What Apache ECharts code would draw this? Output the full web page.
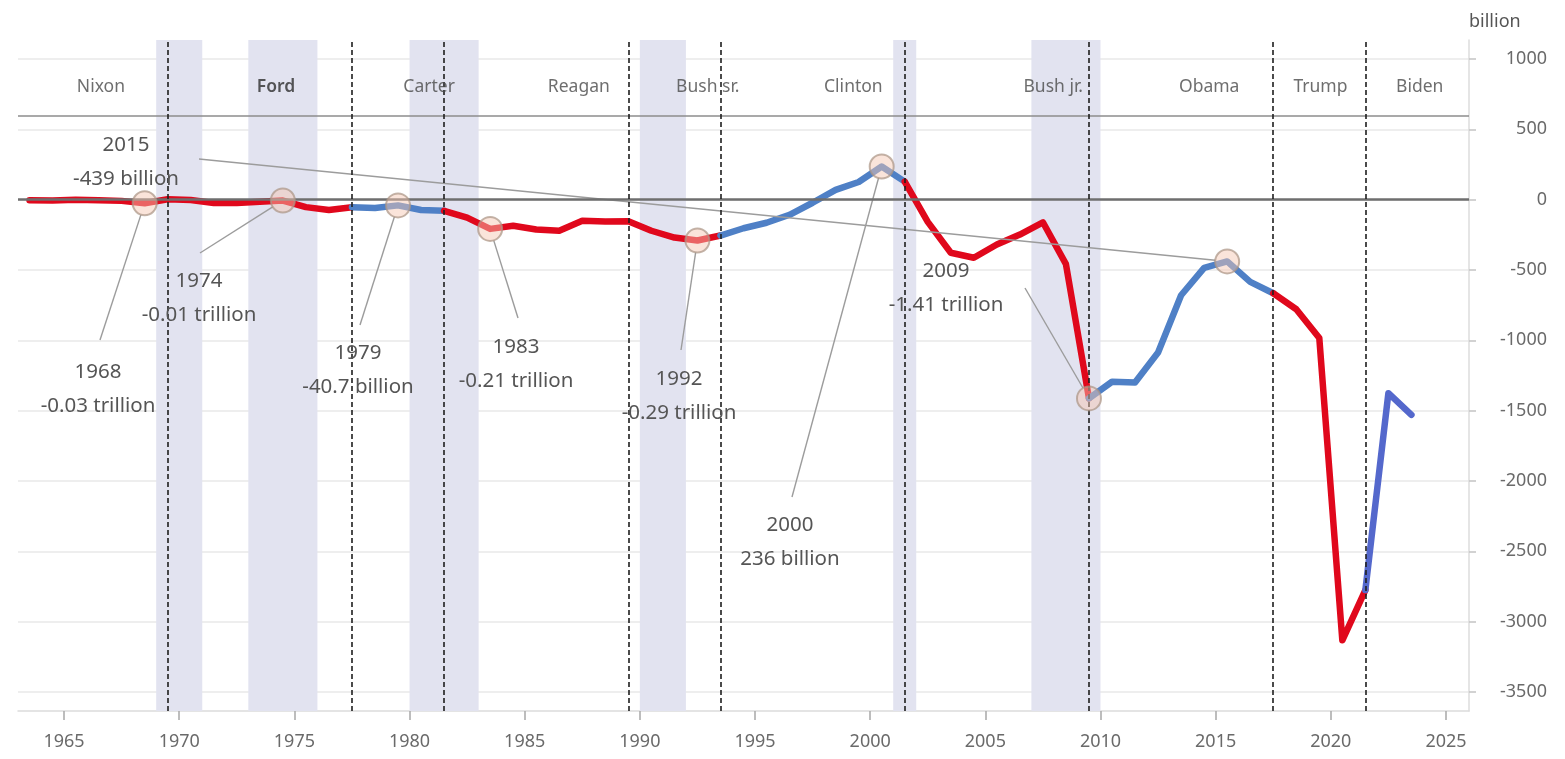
<!DOCTYPE html>
<html>
<head>
<meta charset="utf-8">
<script src="https://cdn.jsdelivr.net/npm/echarts@6/dist/echarts.min.js"></script>
<style>
  html, body { margin: 0; padding: 0; background: #fff; }
  #chart { width: 1565px; height: 759px; }
</style>
</head>
<body>
<div id="chart"></div>
<script>
// ---- data -------------------------------------------------------------
// US federal budget balance by fiscal year, billion USD
const years = [
  1963, 1964, 1965, 1966, 1967, 1968, 1969, 1970, 1971, 1972,
  1973, 1974, 1975, 1976, 1977, 1978, 1979, 1980, 1981, 1982,
  1983, 1984, 1985, 1986, 1987, 1988, 1989, 1990, 1991, 1992,
  1993, 1994, 1995, 1996, 1997, 1998, 1999, 2000, 2001, 2002,
  2003, 2004, 2005, 2006, 2007, 2008, 2009, 2010, 2011, 2012,
  2013, 2014, 2015, 2016, 2017, 2018, 2019, 2020, 2021, 2022,
  2023
];
const balance = [
  -4.8, -5.9, -1.4, -3.7, -8.6, -25.2, 3.2, -2.8, -23.0, -23.4,
  -14.9, -6.1, -53.2, -73.7, -53.7, -59.2, -40.7, -73.8, -79.0, -128.0,
  -207.8, -185.4, -212.3, -221.2, -149.7, -155.2, -152.6, -221.0, -269.2, -290.3,
  -255.1, -203.2, -164.0, -107.4, -21.9, 69.3, 125.6, 236.2, 128.2, -157.8,
  -377.6, -412.7, -318.3, -248.2, -160.7, -458.6, -1412.7, -1294.4, -1299.6, -1087.0,
  -679.5, -484.6, -439.0, -584.7, -665.4, -779.1, -983.6, -3132.4, -2775.3, -1375.9,
  -1530.0
];

// Presidents shown in the header band
const presidents = ['Nixon', 'Ford', 'Carter', 'Reagan', 'Bush sr.', 'Clinton', 'Bush jr.', 'Obama', 'Trump', 'Biden'];
// Years in which the party in the White House changed (dashed separators)
const transitionYears = [1969, 1977, 1981, 1989, 1993, 2001, 2009, 2017, 2021];
// Recession periods (shaded)
const recessions = [[1969, 1971], [1973, 1976], [1980, 1983], [1990, 1992], [2001, 2002], [2007, 2010]];
// Line colouring by administration
const segmentFrom = [1963, 1977, 1981, 1993, 2001, 2009, 2017, 2021];
const segmentTo   = [1977, 1981, 1993, 2001, 2009, 2017, 2021, 2023];
const segmentParty = ['rep', 'dem', 'rep', 'dem', 'rep', 'dem', 'rep', 'dem2'];
// Highlighted years with callouts
const calloutYears = [2015, 1968, 1974, 1979, 1983, 1992, 2000, 2009];
const calloutUnits = ['billion', 'trillion', 'trillion', 'billion', 'trillion', 'trillion', 'billion', 'trillion'];
// Axis ticks
const xTicks = [1965, 1970, 1975, 1980, 1985, 1990, 1995, 2000, 2005, 2010, 2015, 2020, 2025];
const yTicks = [-3500, -3000, -2500, -2000, -1500, -1000, -500, 0, 500, 1000];

// ---- layout & style ---------------------------------------------------
const MID = 0.5;                       // fiscal-year values plotted at mid-year
const X_MIN = 1963, X_MAX = 2026;
const HEADER_RULE = 600;               // rule under the president names
const NAME_LEVEL = 800;                // vertical level of the president names
const nameAnchorX = {
  'Nixon': 1966.6, 'Ford': 1974.2, 'Carter': 1980.85, 'Reagan': 1987.35, 'Bush sr.': 1992.95,
  'Clinton': 1999.27, 'Bush jr.': 2007.95, 'Obama': 2014.72, 'Trump': 2019.55, 'Biden': 2023.86
};
// callout text centre (first line) and leader start, in pixels
const calloutLayout = {
  2015: { text: [126, 145], leader: [199, 159] },
  1968: { text: [98, 372],  leader: [100, 340] },
  1974: { text: [199, 281], leader: [200, 253] },
  1979: { text: [358, 353], leader: [360, 325] },
  1983: { text: [516, 347], leader: [518, 318] },
  1992: { text: [679, 379], leader: [681, 350] },
  2000: { text: [790, 525], leader: [792, 497] },
  2009: { text: [946, 271], leader: [1025, 288] }
};
const partyColour = { rep: '#e0081c', dem: '#4f80c6', dem2: '#5468cc' };
const FONT = '"Noto Sans", "Open Sans", sans-serif';
const GRID_L = 18, GRID_R = 96;

// ---- build ------------------------------------------------------------
const pointOf = (y) => [y + MID, balance[years.indexOf(y)]];

const lineSeries = segmentFrom.map((from, i) => ({
  type: 'line',
  xAxisIndex: 1, yAxisIndex: 1,
  showSymbol: false,
  silent: true,
  z: 3,
  lineStyle: { width: 6.5, color: partyColour[segmentParty[i]], cap: 'round', join: 'round' },
  data: years.filter(y => y >= from && y <= segmentTo[i]).map(pointOf)
}));

function formatValue(v, unit) {
  if (unit === 'trillion') return (v / 1000).toFixed(2) + ' trillion';
  const a = Math.abs(v);
  return (a < 100 ? v.toFixed(1) : String(Math.round(v))) + ' billion';
}

const option = {
  animation: false,
  backgroundColor: '#fff',
  grid: [
    { left: GRID_L, right: GRID_R, top: 40, bottom: 48 },   // frame, bands, separators, x axis
    { left: GRID_L, right: GRID_R, top: 59, bottom: 67 }    // data
  ],
  xAxis: [
    {
      type: 'value', gridIndex: 0, min: X_MIN, max: X_MAX,
      axisLine: { show: true, lineStyle: { color: '#dcdcdc', width: 1.5 } },
      axisTick: { show: true, customValues: xTicks, length: 9, lineStyle: { color: '#a8a8a8', width: 1.5 } },
      axisLabel: {
        customValues: xTicks, margin: 22, color: '#6a6a6a', fontSize: 18, fontFamily: FONT,
        formatter: v => String(v)
      },
      splitLine: { show: false }
    },
    { type: 'value', gridIndex: 1, min: X_MIN, max: X_MAX, show: false }
  ],
  yAxis: [
    {
      type: 'value', gridIndex: 0, min: 0, max: 1, position: 'right',
      name: 'billion', nameLocation: 'end', nameGap: 18,
      nameTextStyle: { color: '#555', fontSize: 18, fontFamily: FONT, align: 'left', verticalAlign: 'middle' },
      axisLine: { show: true, lineStyle: { color: '#dcdcdc', width: 1.5 } },
      axisTick: { show: false }, axisLabel: { show: false }, splitLine: { show: false }
    },
    {
      type: 'value', gridIndex: 1, min: yTicks[0], max: yTicks[yTicks.length - 1], interval: 500,
      position: 'right',
      axisLine: { show: false },
      axisTick: { show: true, length: 7, lineStyle: { color: '#c4c4c4', width: 1.5 } },
      axisLabel: {
        align: 'right', margin: 78, color: '#6a6a6a', fontSize: 18, fontFamily: FONT,
        formatter: v => String(v)
      },
      splitLine: { show: true, lineStyle: { color: '#e8e8e8', width: 1.5 } }
    }
  ],
  series: [
    // recession bands
    {
      type: 'line', xAxisIndex: 0, yAxisIndex: 0, data: [], silent: true, z: 1,
      markArea: {
        silent: true,
        itemStyle: { color: '#e2e3f0' },
        data: recessions.map(r => [{ xAxis: r[0] }, { xAxis: r[1] }])
      }
    },
    // zero line and header rule
    {
      type: 'line', xAxisIndex: 1, yAxisIndex: 1, data: [], silent: true, z: 2,
      markLine: {
        silent: true, symbol: 'none', label: { show: false }, animation: false,
        data: [
          { yAxis: 0, lineStyle: { color: '#6e6e6e', width: 2.5, type: 'solid' } },
          { yAxis: HEADER_RULE, lineStyle: { color: '#8c8c8c', width: 1.5, type: 'solid' } }
        ]
      }
    },
    ...lineSeries,
    // highlighted points
    {
      type: 'scatter', xAxisIndex: 1, yAxisIndex: 1, silent: true, z: 5,
      symbol: 'circle', symbolSize: 24,
      itemStyle: { color: 'rgba(245, 198, 178, 0.6)', borderColor: 'rgba(172, 150, 134, 0.9)', borderWidth: 2 },
      data: calloutYears.map(pointOf)
    },
    // president names
    {
      type: 'scatter', xAxisIndex: 1, yAxisIndex: 1, silent: true, z: 6,
      symbolSize: 0,
      label: {
        show: true, position: 'inside', formatter: p => p.value[2],
        color: '#4a4a4a', fontSize: 17.5, fontFamily: FONT
      },
      data: presidents.map(n => ({
        value: [nameAnchorX[n], NAME_LEVEL, n],
        label: n === 'Ford' ? { color: '#2e2e2e', fontWeight: 600 } : undefined
      }))
    },
    // administration change separators
    {
      type: 'line', xAxisIndex: 0, yAxisIndex: 0, data: [], silent: true, z: 8,
      markLine: {
        silent: true, symbol: 'none', label: { show: false }, animation: false,
        lineStyle: { color: '#1e1e1e', width: 1.6, type: [5, 3] },
        data: transitionYears.map(y => ({ xAxis: y + MID }))
      }
    }
  ]
};

const chart = echarts.init(document.getElementById('chart'), null, { renderer: 'canvas' });
chart.setOption(option);

// callouts: leader lines from label to highlighted point, then the text
const graphics = [];
calloutYears.forEach((y, i) => {
  const pt = pointOf(y);
  const p = chart.convertToPixel({ gridIndex: 1 }, pt);
  const L = calloutLayout[y];
  const dx = p[0] - L.leader[0], dy = p[1] - L.leader[1];
  const len = Math.sqrt(dx * dx + dy * dy);
  const r = 12;
  graphics.push({
    type: 'line', z: 4, silent: true,
    shape: { x1: L.leader[0], y1: L.leader[1], x2: p[0] - dx / len * r, y2: p[1] - dy / len * r },
    style: { stroke: '#9c9c9c', lineWidth: 1.4 }
  });
  graphics.push({
    type: 'text', z: 6, silent: true,
    x: L.text[0], y: L.text[1] - 17,
    style: {
      text: y + '\n' + formatValue(pt[1], calloutUnits[i]),
      align: 'center', verticalAlign: 'top',
      fontSize: 20.5, lineHeight: 34, fontFamily: FONT, fill: '#555555'
    }
  });
});
chart.setOption({ graphic: graphics });
</script>
</body>
</html>
